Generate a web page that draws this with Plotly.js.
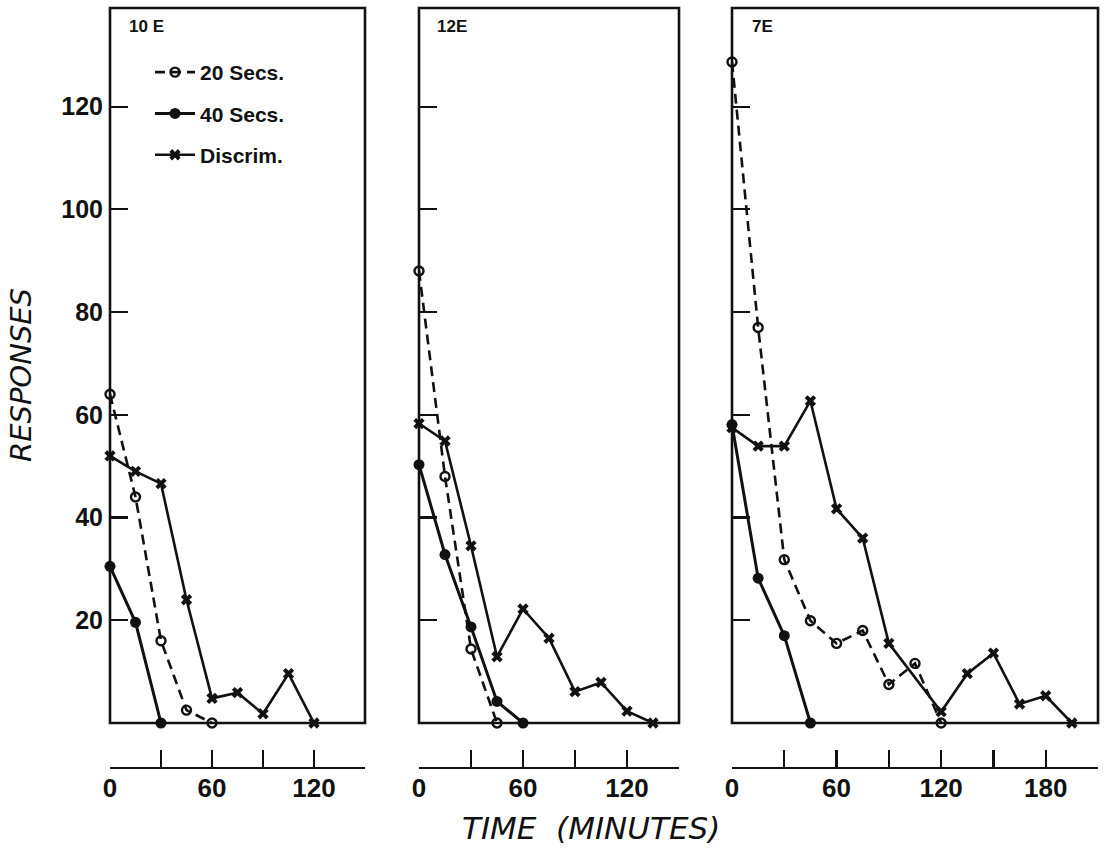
<!DOCTYPE html>
<html>
<head>
<meta charset="utf-8">
<script src="https://cdn.plot.ly/plotly-3.0.1.min.js"></script>
<style>html,body{margin:0;padding:0;background:#fff;}#chart{width:1110px;height:863px;}</style>
</head>
<body>
<div id="chart"></div>
<script>
// ---- data (time in minutes, responses) ----
const panelNames = ['10 E', '12E', '7E'];
const seriesNames = ['20 Secs.', '40 Secs.', 'Discrim.'];

const p1Time20 = [0, 15, 30, 45, 60];
const p1Resp20 = [64, 44, 16, 2.5, 0];
const p1Time40 = [0, 15, 30];
const p1Resp40 = [30.5, 19.6, 0];
const p1TimeD = [0, 15, 30, 45, 60, 75, 90, 105, 120];
const p1RespD = [52, 49, 46.6, 24, 4.8, 5.9, 1.8, 9.6, 0];

const p2Time20 = [0, 15, 30, 45];
const p2Resp20 = [88, 48, 14.4, 0];
const p2Time40 = [0, 15, 30, 45, 60];
const p2Resp40 = [50.3, 32.8, 18.7, 4.2, 0];
const p2TimeD = [0, 15, 30, 45, 60, 75, 90, 105, 120, 135];
const p2RespD = [58.3, 54.9, 34.5, 12.9, 22.2, 16.5, 6.1, 7.9, 2.3, 0];

const p3Time20 = [0, 15, 30, 45, 60, 75, 90, 105, 120];
const p3Resp20 = [128.7, 77, 31.8, 19.9, 15.5, 18, 7.5, 11.6, 0];
const p3Time40 = [0, 15, 30, 45];
const p3Resp40 = [58.1, 28.2, 17, 0];
const p3TimeD = [0, 15, 30, 45, 60, 75, 90, 120, 135, 150, 165, 180, 195];
const p3RespD = [57.5, 53.9, 53.9, 62.7, 41.7, 36, 15.5, 2.2, 9.6, 13.6, 3.7, 5.3, 0];

const yTickVals = [20, 40, 60, 80, 100, 120];
const yTickText = ['20', '40', '60', '80', '100', '120'];
const xTickVals12 = [0, 30, 60, 90, 120, 150];
const xTickText12 = ['0', '', '60', '', '120', ''];
const xTickVals3 = [0, 30, 60, 90, 120, 150, 180, 210];
const xTickText3 = ['0', '', '60', '', '120', '', '180', ''];

// ---- styling ----
const FONT = 'Liberation Sans, Arial, sans-serif';
const TITLEFONT = 'DejaVu Sans, Liberation Sans, sans-serif';
const INK = '#111';
const W = 1110, H = 863;
const px = v => v / W;
const py = v => 1 - v / H;

const styles = [
  {line: {color: INK, width: 2.6, dash: '10px,6px'}, marker: {symbol: 'circle-open', size: 9, color: INK, line: {width: 2.4, color: INK}}},
  {line: {color: INK, width: 3, dash: 'solid'}, marker: {symbol: 'circle', size: 11, color: INK}},
  {line: {color: INK, width: 2.6, dash: 'solid'}, marker: {symbol: 'x', size: 10, color: INK, line: {width: 0}}}
];

const panels = [
  {times: [p1Time20, p1Time40, p1TimeD], resp: [p1Resp20, p1Resp40, p1RespD]},
  {times: [p2Time20, p2Time40, p2TimeD], resp: [p2Resp20, p2Resp40, p2RespD]},
  {times: [p3Time20, p3Time40, p3TimeD], resp: [p3Resp20, p3Resp40, p3RespD]}
];

const traces = [];
panels.forEach((p, i) => {
  const xa = i === 0 ? 'x' : 'x' + (i + 1);
  const ya = i === 0 ? 'y' : 'y' + (i + 1);
  for (let s = 0; s < 3; s++) {
    traces.push({
      type: 'scatter', mode: 'lines+markers',
      x: p.times[s], y: p.resp[s],
      xaxis: xa, yaxis: ya,
      name: seriesNames[s],
      legendgroup: 'g' + s,
      showlegend: i === 0,
      line: styles[s].line, marker: styles[s].marker,
      cliponaxis: false
    });
  }
});

const xDomains = [[px(110), px(365)], [px(419), px(679)], [px(732), px(1098)]];
const xRanges = [[0, 150], [0, 150], [0, 210]];
const yDomain = [py(723), py(8)];
const yRange = [0, 139.2];
const axisLineY = py(768);

const layout = {
  width: W, height: H,
  margin: {l: 0, r: 0, t: 0, b: 0},
  paper_bgcolor: '#fff', plot_bgcolor: '#fff',
  showlegend: true,
  legend: {
    x: px(150), y: py(52), xanchor: 'left', yanchor: 'top',
    bgcolor: 'rgba(0,0,0,0)', borderwidth: 0,
    font: {family: FONT, size: 21, color: INK, weight: 'bold'},
    traceorder: 'grouped', tracegroupgap: 11, itemwidth: 40
  },
  shapes: [],
  annotations: []
};

for (let i = 0; i < 3; i++) {
  const sfx = i === 0 ? '' : String(i + 1);
  const xName = 'xaxis' + sfx, yName = 'yaxis' + sfx;
  const isLast = i === 2;
  layout[xName] = {
    domain: xDomains[i], range: xRanges[i], anchor: 'free', position: axisLineY,
    showgrid: false, zeroline: false, showline: true, linecolor: INK, linewidth: 2.2,
    ticks: 'inside', ticklen: 17, tickwidth: 2.2, tickcolor: INK,
    tickmode: 'array', tickvals: isLast ? xTickVals3 : xTickVals12, ticktext: isLast ? xTickText3 : xTickText12,
    tickfont: {family: FONT, size: 26, color: INK, weight: 'bold'}, ticklabelstandoff: -3,
    fixedrange: true
  };
  layout[yName] = {
    domain: yDomain, range: yRange, anchor: i === 0 ? 'x' : 'x' + (i + 1),
    showgrid: false, zeroline: false, showline: false,
    ticks: 'inside', ticklen: 18, tickwidth: 2.2, tickcolor: INK,
    tickmode: 'array', tickvals: yTickVals, ticktext: yTickText,
    showticklabels: i === 0,
    tickfont: {family: FONT, size: 25, color: INK, weight: 'bold'}, ticklabelstandoff: 6,
    fixedrange: true
  };
  layout.shapes.push({
    type: 'rect', xref: 'x' + sfx + ' domain', yref: 'y' + sfx + ' domain',
    x0: 0, x1: 1, y0: 0, y1: 1, line: {color: INK, width: 2.6}, layer: 'above'
  });
}

const labelX = [127, 435, 750];
panelNames.forEach((t, i) => {
  layout.annotations.push({
    text: '<b>' + t + '</b>', xref: 'paper', yref: 'paper', x: px(labelX[i]), y: py(26),
    xanchor: 'left', yanchor: 'middle', showarrow: false,
    font: {family: FONT, size: 17, color: INK}
  });
});
layout.annotations.push({
  text: '<i>RESPONSES</i>', xref: 'paper', yref: 'paper', x: px(21), y: py(375),
  xanchor: 'center', yanchor: 'middle', showarrow: false, textangle: -90,
  font: {family: TITLEFONT, size: 29, color: INK}
});
layout.annotations.push({
  text: '<i>TIME  (MINUTES)</i>', xref: 'paper', yref: 'paper', x: px(591), y: py(828),
  xanchor: 'center', yanchor: 'middle', showarrow: false,
  font: {family: TITLEFONT, size: 31, color: INK}
});

Plotly.newPlot('chart', traces, layout, {displayModeBar: false, staticPlot: true});
</script>
</body>
</html>
